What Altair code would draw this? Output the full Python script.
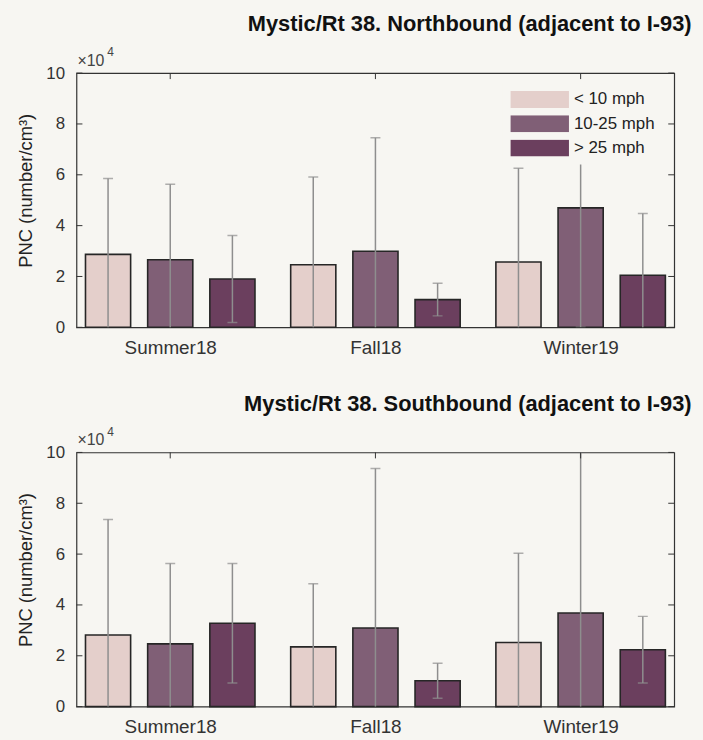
import altair as alt
import pandas as pd

seasons = ["Summer18", "Fall18", "Winter19"]
speeds = ["< 10 mph", "10-25 mph", "> 25 mph"]
colors = ["#E4CFCB", "#805F76", "#6B3F5E"]

# PNC means and standard deviations (number/cm^3), order: season x speed
north_mean = [28700, 26600, 19000, 24600, 29900, 10900, 25700, 47000, 20500]
north_err = [29800, 29700, 17100, 34500, 44700, 6400, 36900, 47000, 24300]
south_mean = [28200, 24700, 32800, 23500, 30900, 10200, 25200, 36800, 22400]
south_err = [45400, 31600, 23500, 24800, 62800, 6900, 35100, 70000, 13100]

title_n = "Mystic/Rt 38. Northbound (adjacent to I-93)"
title_s = "Mystic/Rt 38. Southbound (adjacent to I-93)"
y_ticks = [0, 20000, 40000, 60000, 80000, 100000]

W, H = 602, 256
BG = "#F7F6F2"
FONT = "Liberation Sans"
OFF, HALF = 0.303, 0.11


def frame(means, errs):
    rows = []
    for i, s in enumerate(seasons):
        for k, sp in enumerate(speeds):
            m = means[i * 3 + k]
            e = errs[i * 3 + k]
            c = i + 1 + (k - 1) * OFF
            rows.append({"season": s, "speed": sp, "order": k, "x": c,
                         "x0": c - HALF, "x1": c + HALF, "mean": m,
                         "lo": m - e, "hi": m + e})
    return pd.DataFrame(rows)


xs = alt.Scale(domain=[0.543, 3.456], nice=False, zero=False)
ys = alt.Scale(domain=[0, 100000], nice=False)


def panel(means, errs, title, show_legend):
    df = frame(means, errs)
    base = alt.Chart(df)
    if show_legend:
        leg = alt.Legend(
            orient="none", legendX=429, legendY=10, title=None,
            symbolType="M-1,-0.29H1V0.29H-1Z", symbolSize=3481,
            symbolStrokeWidth=0, symbolOpacity=1, clipHeight=17,
            rowPadding=6.5, labelFontSize=17, labelFont=FONT,
            labelColor="#222", labelOffset=5, fillColor=BG, padding=8,
        )
    else:
        leg = None
    bars = base.mark_rect(stroke="#262626", strokeWidth=1.6).encode(
        x=alt.X("x0:Q", scale=xs, axis=alt.Axis(
            values=[1, 2, 3], labelExpr="['Summer18','Fall18','Winter19'][datum.value-1]",
            ticks=False, domain=False, grid=False, labelFontSize=19,
            labelFont=FONT, labelColor="#333", labelPadding=11, title=None)),
        x2="x1:Q",
        y=alt.Y("mean:Q", scale=ys, axis=alt.Axis(
            values=y_ticks, labelExpr="datum.value/10000", ticks=False,
            domain=False, grid=False, labelFontSize=17, labelFont=FONT,
            labelColor="#333", labelPadding=12, title="PNC (number/cm³)",
            titleFontSize=18.5, titleFont=FONT, titleFontWeight="normal",
            titleColor="#222", titlePadding=10, titleY=118)),
        y2=alt.datum(0),
        color=alt.Color("speed:N", scale=alt.Scale(domain=speeds, range=colors),
                        legend=leg),
    )
    err = base.mark_rule(color="#8E8E8E", strokeWidth=1.5, clip=True).encode(
        x="x:Q", y="lo:Q", y2="hi:Q")
    cap_hi = base.mark_tick(orient="horizontal", color="#8E8E8E", size=10,
                            thickness=1.5, clip=True).encode(x="x:Q", y="hi:Q")
    cap_lo = base.mark_tick(orient="horizontal", color="#8E8E8E", size=10,
                            thickness=1.5, clip=True).encode(x="x:Q", y="lo:Q")
    tdf = pd.DataFrame({"t": y_ticks})
    lt = alt.Chart(tdf).mark_rule(color="#333", strokeWidth=1).encode(
        y="t:Q", x=alt.value(0), x2=alt.value(6))
    rt = alt.Chart(tdf).mark_rule(color="#333", strokeWidth=1).encode(
        y="t:Q", x=alt.value(W - 6), x2=alt.value(W))
    gdf = pd.DataFrame({"g": [1, 2, 3]})
    tt = alt.Chart(gdf).mark_rule(color="#333", strokeWidth=1).encode(
        x="g:Q", y=alt.value(0), y2=alt.value(6))
    mdf = pd.DataFrame({"a": ["×10"], "b": ["4"]})
    m1 = alt.Chart(mdf).mark_text(align="left", baseline="alphabetic",
                                  fontSize=16, font=FONT, color="#444").encode(
        x=alt.value(1), y=alt.value(-7), text="a:N")
    m2 = alt.Chart(mdf).mark_text(align="left", baseline="alphabetic",
                                  fontSize=12, font=FONT, color="#444").encode(
        x=alt.value(31), y=alt.value(-17), text="b:N")
    return alt.layer(bars, err, cap_hi, cap_lo, lt, rt, tt, m1, m2).properties(
        width=W, height=H,
        title=alt.TitleParams(title, anchor="end", fontSize=22, font=FONT,
                              fontWeight="bold", color="#111", dx=17, offset=10),
    )


top = panel(north_mean, north_err, title_n, True)
bot = panel(south_mean, south_err, title_s, False)

chart = alt.vconcat(top, bot, spacing=34).resolve_scale(color="independent").configure(
    background=BG,
    padding={"left": 16, "top": 10, "right": 10, "bottom": 3},
).configure_view(stroke="#333", strokeWidth=1.2)

chart.save("out.html", embed_options={"renderer": "svg", "actions": False})
